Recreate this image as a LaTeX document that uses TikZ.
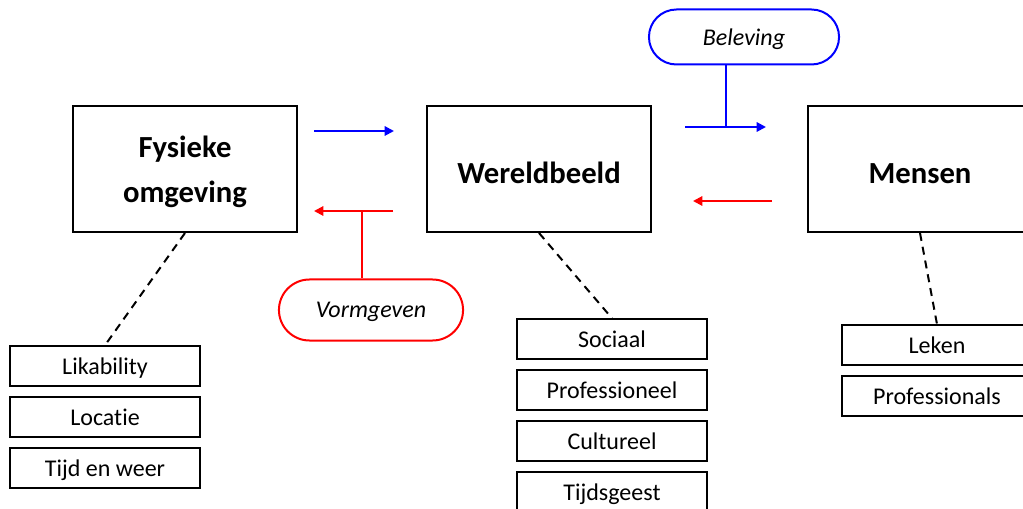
\documentclass[tikz,border=0pt]{standalone}
\usepackage{fontspec}
\setmainfont[Ligatures=NoCommon]{Carlito}
\usetikzlibrary{arrows.meta,shapes.misc}

\tikzset{
  mainbox/.style={draw, line width=1.5pt, minimum width=168pt, minimum height=94.5pt,
    align=center, text depth=0pt, font=\fontsize{23}{34}\selectfont\bfseries},
  itembox/.style={draw, line width=1.1pt, minimum width=142.5pt, minimum height=30pt,
    text depth=0pt, font=\fontsize{18}{20}\selectfont},
  actor/.style={draw, rounded rectangle, line width=1.5pt, text depth=0pt,
    font=\fontsize{18}{20}\selectfont\itshape},
  flow/.style={line width=1.5pt, -{Triangle[length=7pt,width=7pt]}},
  stem/.style={line width=1.5pt},
  dashline/.style={line width=1.5pt, dash pattern=on 6pt off 4.5pt},
}

\begin{document}
\begin{tikzpicture}[x=0.75pt, y=-0.75pt]
    \useasboundingbox (0,0) rectangle (1023,509);

    % main blocks
    \node [mainbox] (fys) at (185,169) {Fysieke\\omgeving};
    \node [mainbox, text height=22pt] (wer) at (539,169) {Wereldbeeld};
    \node [mainbox, text height=22pt] (men) at (920,169) {Mensen};

    % actors
    \node [actor, blue, minimum width=149.25pt, minimum height=41.25pt] (bel) at (744,37) {\textcolor{black}{Beleving}};
    \node [actor, red, minimum width=144.75pt, minimum height=45.75pt] (vorm) at (371,310) {\textcolor{black}{Vormgeven}};

    % items
    \node [itembox] (lik)  at (105,366) {Likability};
    \node [itembox] (loc)  at (105,417) {Locatie};
    \node [itembox] (tijd) at (105,468) {Tijd en weer};

    \node [itembox] (soc)   at (612,339) {Sociaal};
    \node [itembox] (prof)  at (612,390) {Professioneel};
    \node [itembox] (cult)  at (612,441) {Cultureel};
    \node [itembox] (geest) at (612,492) {Tijdsgeest};

    \node [itembox] (lek)   at (937,345) {Leken};
    \node [itembox] (profs) at (937,396) {Professionals};

    % arrow ends
    \coordinate (b1s) at (314,131);
    \coordinate (b1e) at (394,131);
    \coordinate (r1s) at (393,211);
    \coordinate (r1e) at (314,211);
    \coordinate (r1j) at (362,211);
    \coordinate (b2s) at (685,127);
    \coordinate (b2e) at (766,127);
    \coordinate (b2j) at (726,127);
    \coordinate (r2s) at (772,201);
    \coordinate (r2e) at (693,201);

    \draw [flow, blue] (b1s) -- (b1e);
    \draw [flow, red]  (r1s) -- (r1e);
    \draw [stem, red]  (r1j) -- (r1j |- vorm.north);
    \draw [flow, blue] (b2s) -- (b2e);
    \draw [stem, blue] (b2j) -- (b2j |- bel.south);
    \draw [flow, red]  (r2s) -- (r2e);

    % dashed links
    \draw [dashline] (fys.south) -- (lik.north);
    \draw [dashline] (wer.south) -- (soc.north);
    \draw [dashline] (men.south) -- (lek.north);
\end{tikzpicture}
\end{document}
